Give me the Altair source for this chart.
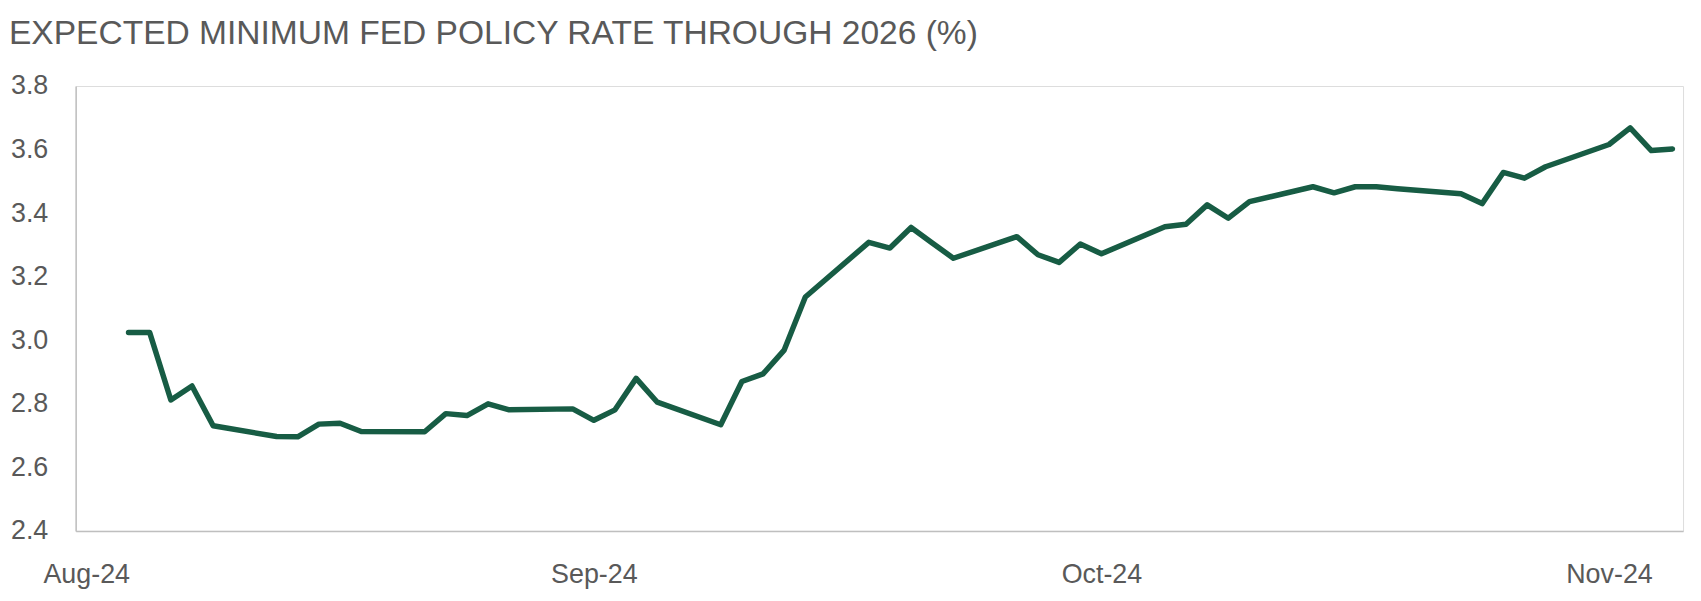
import altair as alt
import pandas as pd

# ---- data ----
dates = [
    "2024-08-26", "2024-08-27", "2024-08-28", "2024-08-29", "2024-08-30",
    "2024-09-02", "2024-09-03", "2024-09-04", "2024-09-05", "2024-09-06",
    "2024-09-09", "2024-09-10", "2024-09-11", "2024-09-12", "2024-09-13",
    "2024-09-16", "2024-09-17", "2024-09-18", "2024-09-19", "2024-09-20",
    "2024-09-23", "2024-09-24", "2024-09-25", "2024-09-26", "2024-09-27",
    "2024-09-30", "2024-10-01", "2024-10-02", "2024-10-03", "2024-10-04",
    "2024-10-07", "2024-10-08", "2024-10-09", "2024-10-10", "2024-10-11",
    "2024-10-14", "2024-10-15", "2024-10-16", "2024-10-17", "2024-10-18",
    "2024-10-21", "2024-10-22", "2024-10-23", "2024-10-24", "2024-10-25",
    "2024-10-28", "2024-10-29", "2024-10-30", "2024-10-31", "2024-11-01",
    "2024-11-04", "2024-11-05", "2024-11-06", "2024-11-07",
]
rates = [
    3.024, 3.024, 2.812, 2.856, 2.731,
    2.697, 2.696, 2.736, 2.739, 2.713,
    2.712, 2.769, 2.763, 2.800, 2.781,
    2.784, 2.748, 2.781, 2.880, 2.805,
    2.734, 2.870, 2.894, 2.969, 3.136,
    3.308, 3.290, 3.355, 3.306, 3.258,
    3.326, 3.269, 3.245, 3.303, 3.272,
    3.357, 3.365, 3.426, 3.384, 3.436,
    3.483, 3.464, 3.483, 3.483, 3.477,
    3.461, 3.430, 3.528, 3.510, 3.546,
    3.616, 3.668, 3.597, 3.602,
]
x_tick_dates = [(2024, 8, 24), (2024, 9, 17), (2024, 10, 11), (2024, 11, 4)]
y_ticks = [2.4, 2.6, 2.8, 3.0, 3.2, 3.4, 3.6, 3.8]
title_text = "EXPECTED MINIMUM FED POLICY RATE THROUGH 2026 (%)"

df = pd.DataFrame({"date": dates, "rate": rates})

GRAY = "#595959"
AXIS = "#BFBFBF"
GREEN = "#175C44"
FONT = "Liberation Sans"

x_domain = [
    alt.DateTime(year=2024, month=8, date=23, hours=12, utc=True),
    alt.DateTime(year=2024, month=11, date=7, hours=12, utc=True),
]
x_values = [alt.DateTime(year=y, month=m, date=d, utc=True) for (y, m, d) in x_tick_dates]

chart = (
    alt.Chart(df)
    .mark_line(color=GREEN, strokeWidth=5.5, strokeJoin="round", strokeCap="round")
    .encode(
        x=alt.X(
            "date:T",
            scale=alt.Scale(type="utc", domain=x_domain),
            axis=alt.Axis(
                values=x_values,
                labelExpr="utcFormat(datum.value, '%b-%y')",
                title=None,
                grid=False,
                ticks=False,
                domainColor=AXIS,
                domainWidth=1.5,
                labelColor=GRAY,
                labelFont=FONT,
                labelFontSize=27,
                labelPadding=31,
                labelAlign="center",
                labelFlush=False,
                labelOverlap=False,
            ),
        ),
        y=alt.Y(
            "rate:Q",
            scale=alt.Scale(domain=[2.4, 3.8], nice=False, zero=False),
            axis=alt.Axis(
                values=y_ticks,
                format=".1f",
                title=None,
                grid=False,
                ticks=False,
                domainColor=AXIS,
                domainWidth=1.5,
                labelColor=GRAY,
                labelFont=FONT,
                labelFontSize=27,
                labelPadding=28,
                labelFlush=False,
                labelOverlap=False,
            ),
        ),
    )
    .properties(
        width=1615,
        height=447,
        autosize=alt.AutoSizeParams(type="none"),
        padding={"left": 68, "top": 77, "right": 10, "bottom": 60},
        title=alt.TitleParams(
            text=title_text,
            anchor="start",
            frame="group",
            dx=-67,
            font=FONT,
            fontSize=33.7,
            fontWeight="normal",
            color=GRAY,
            offset=22,
        ),
    )
    .configure_view(stroke=None)
    .configure(background="white")
)

chart.save("out.html", embed_options={"renderer": "svg", "actions": False})
